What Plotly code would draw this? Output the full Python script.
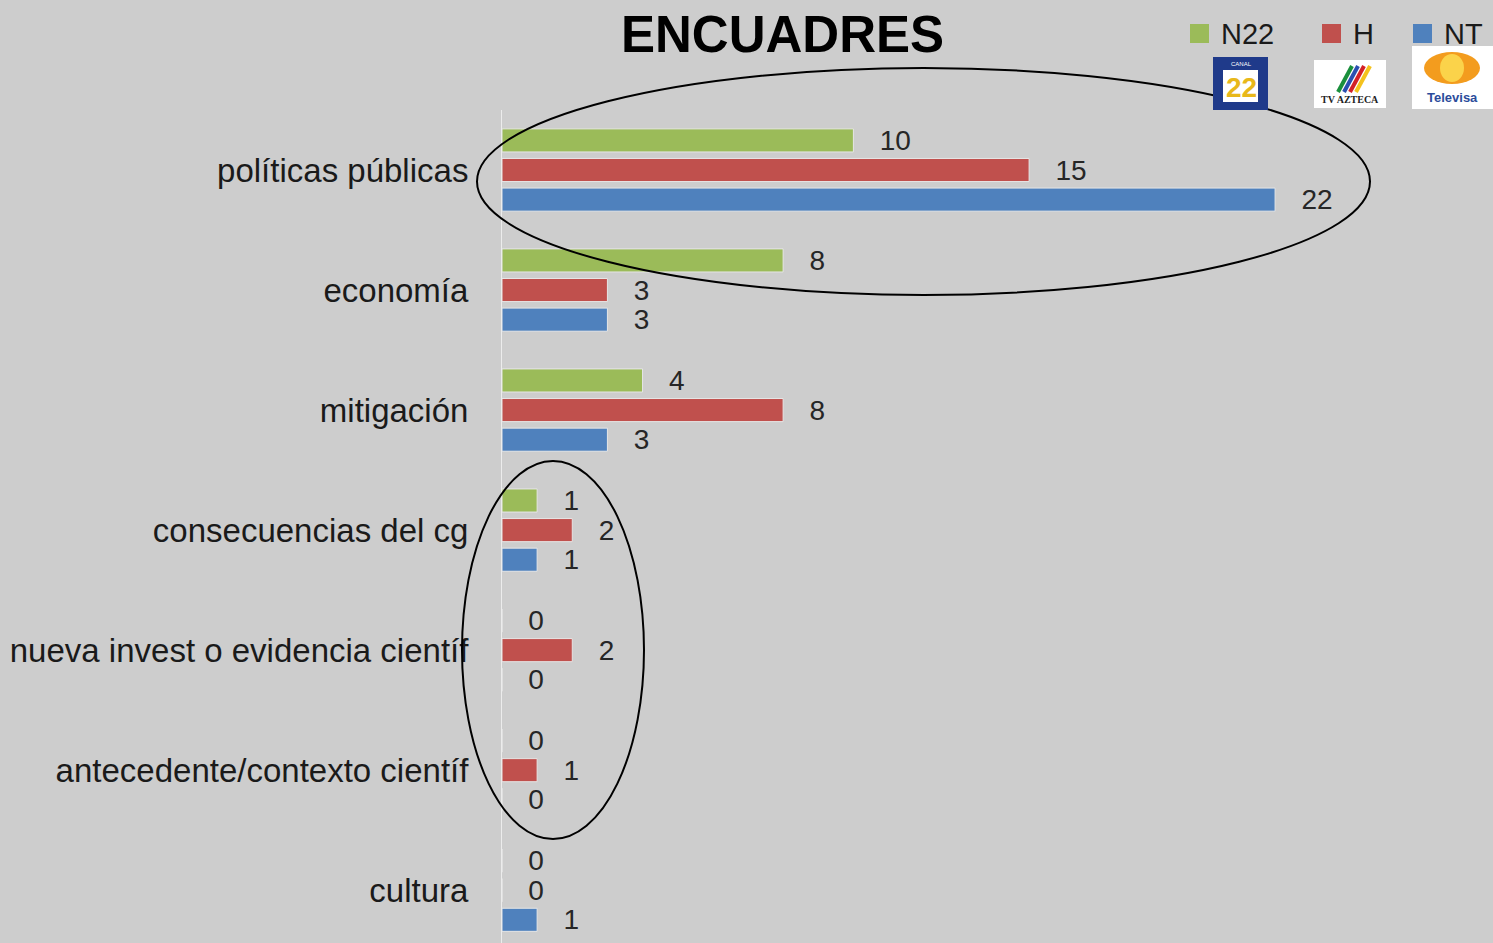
import plotly.graph_objects as go

categories = ["políticas públicas", "economía", "mitigación", "consecuencias del cg",
              "nueva invest o evidencia científ", "antecedente/contexto científ", "cultura"]
n22 = [10, 8, 4, 1, 0, 0, 0]
h = [15, 3, 8, 2, 2, 1, 0]
nt = [22, 3, 3, 1, 0, 0, 1]
series_names = ["N22", "H", "NT"]
colors = ["#9bbb59", "#c0504d", "#4f81bd"]

W, H = 1493, 943
L, T = 502, 110
BG = "#cdcdcd"
LABEL_FONT = "Liberation Sans, Arial, sans-serif"

fig = go.Figure()
for name, vals, col in zip(series_names, [n22, h, nt], colors):
    fig.add_trace(go.Bar(
        name=name, x=vals, y=categories, orientation="h",
        marker=dict(color=col, line=dict(color="#e6e6e6", width=1)),
        text=vals, texttemplate="\u00a0\u00a0\u00a0%{x}", textposition="outside",
        constraintext="none",
        textfont=dict(family=LABEL_FONT, size=28, color="#262626"),
        cliponaxis=False, showlegend=False,
    ))

pw = W - L
ph = H - T
def px_x(p):
    return (p - L) / pw
def px_y(p):
    return (H - p) / ph

shapes = [
    dict(type="circle", xref="paper", yref="paper",
         x0=px_x(477), x1=px_x(1370), y0=px_y(295), y1=px_y(68),
         line=dict(color="black", width=2)),
    dict(type="circle", xref="paper", yref="paper",
         x0=px_x(462), x1=px_x(644), y0=px_y(839), y1=px_y(461),
         line=dict(color="black", width=2)),
    # logos (approximations)
    dict(type="rect", xref="paper", yref="paper",
         x0=px_x(1213), x1=px_x(1268), y0=px_y(110), y1=px_y(57),
         fillcolor="#1f3a8a", line=dict(width=0), layer="above"),
    dict(type="rect", xref="paper", yref="paper",
         x0=px_x(1223), x1=px_x(1258), y0=px_y(102), y1=px_y(70),
         fillcolor="white", line=dict(width=0), layer="above"),
    dict(type="rect", xref="paper", yref="paper",
         x0=px_x(1314), x1=px_x(1386), y0=px_y(108), y1=px_y(60),
         fillcolor="white", line=dict(width=0), layer="above"),
    dict(type="rect", xref="paper", yref="paper",
         x0=px_x(1412), x1=px_x(1493), y0=px_y(109), y1=px_y(46),
         fillcolor="white", line=dict(width=0), layer="above"),
    dict(type="circle", xref="paper", yref="paper",
         x0=px_x(1424), x1=px_x(1480), y0=px_y(84), y1=px_y(52),
         fillcolor="#f39c1e", line=dict(width=0), layer="above"),
    dict(type="circle", xref="paper", yref="paper",
         x0=px_x(1440), x1=px_x(1464), y0=px_y(82), y1=px_y(54),
         fillcolor="#fbd34a", line=dict(width=0), layer="above"),
]
# TV Azteca stripes
for i, c in enumerate(["#1a8f3c", "#2a4fb0", "#d32027", "#f4c21d"]):
    shapes.append(dict(type="line", xref="paper", yref="paper",
                       x0=px_x(1338 + i * 6), y0=px_y(92), x1=px_x(1352 + i * 6), y1=px_y(66),
                       line=dict(color=c, width=4), layer="above"))

annotations = [
    dict(text="<b>ENCUADRES</b>", xref="paper", yref="paper",
         x=px_x(782), y=px_y(35), showarrow=False,
         font=dict(family="Liberation Sans, Arial, sans-serif", size=51, color="black"),
         xanchor="center", yanchor="middle"),
    dict(text="<b>22</b>", xref="paper", yref="paper", x=px_x(1241), y=px_y(87),
         showarrow=False, font=dict(family="Liberation Sans", size=28, color="#e8b81a"),
         xanchor="center", yanchor="middle"),
    dict(text="CANAL", xref="paper", yref="paper", x=px_x(1241), y=px_y(64),
         showarrow=False, font=dict(family="Liberation Sans", size=6, color="white"),
         xanchor="center", yanchor="middle"),
    dict(text="<b>TV AZTECA</b>", xref="paper", yref="paper", x=px_x(1350), y=px_y(100),
         showarrow=False, font=dict(family="Liberation Serif", size=10, color="#222222"),
         xanchor="center", yanchor="middle"),
    dict(text="<b>Televisa</b>", xref="paper", yref="paper", x=px_x(1452), y=px_y(97),
         showarrow=False, font=dict(family="Liberation Sans", size=13, color="#2b4c9b"),
         xanchor="center", yanchor="middle"),
]

# custom legend
legend_sq = [1190, 1322, 1413]
for name, col, sx in zip(series_names, colors, legend_sq):
    shapes.append(dict(type="rect", xref="paper", yref="paper",
                       x0=px_x(sx), x1=px_x(sx + 19), y0=px_y(43), y1=px_y(24),
                       fillcolor=col, line=dict(width=0), layer="above"))
    annotations.append(dict(text=name, xref="paper", yref="paper",
                            x=px_x(sx + 29), y=px_y(34), showarrow=False,
                            xanchor="left", yanchor="middle",
                            font=dict(family="Liberation Sans, Arial, sans-serif", size=29,
                                      color="#1a1a1a")))

fig.update_layout(
    width=W, height=H,
    paper_bgcolor=BG, plot_bgcolor=BG,
    margin=dict(l=L, r=0, t=T, b=0),
    barmode="group", bargap=0.26, bargroupgap=0.22,
    showlegend=False,
    shapes=shapes, annotations=annotations,
    xaxis=dict(range=[0, pw / 35.14], showgrid=False, zeroline=False,
               showticklabels=False, showline=False, fixedrange=True),
    yaxis=dict(range=[6.44, -0.5], showgrid=False, zeroline=False,
               showline=True, linecolor="#ececec", linewidth=1,
               ticks="", ticklabelstandoff=26,
               tickfont=dict(family=LABEL_FONT, size=33, color="#1a1a1a")),
)

fig.write_html("out.html", config={"displayModeBar": False},
               post_script="document.body.style.margin='0';document.body.style.overflow='hidden';")
